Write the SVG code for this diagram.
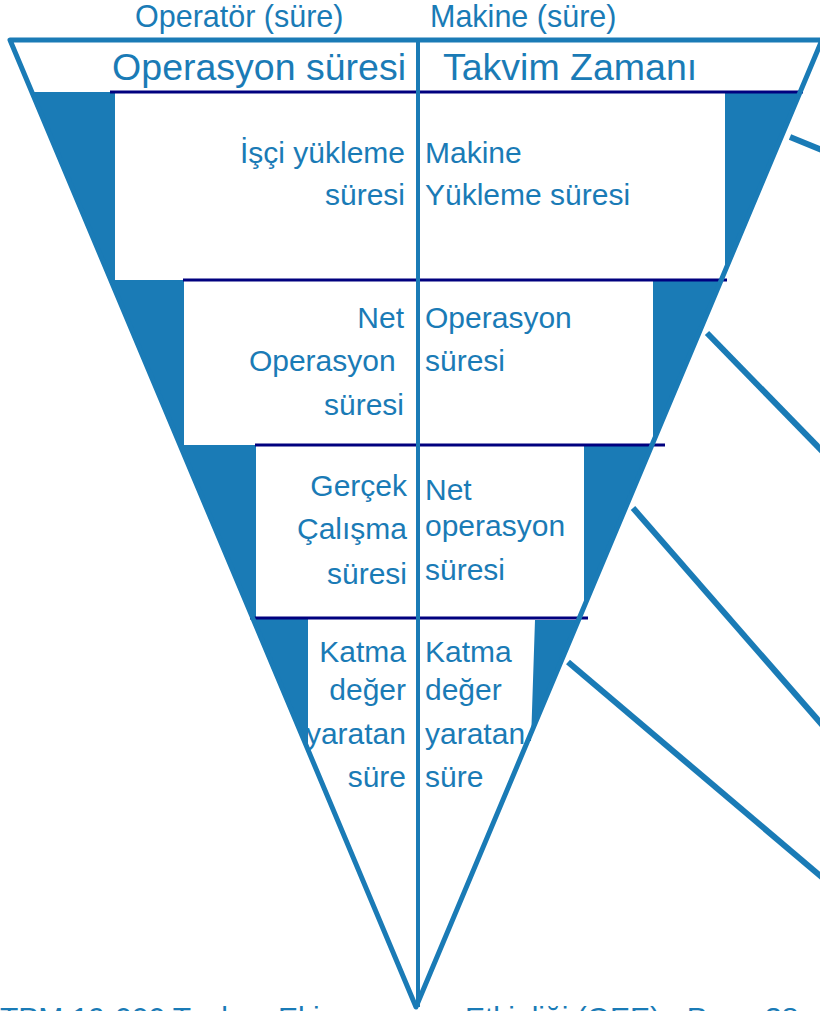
<svg xmlns="http://www.w3.org/2000/svg" width="820" height="1011" viewBox="0 0 820 1011">
<style>
.t{font-family:"Liberation Sans",Arial,sans-serif;font-size:30px;fill:#1a7bb6}
.s{font-size:30.5px}
.h{font-size:37.5px}
.r{text-anchor:end}
.w{fill:#1a7bb6;stroke:none}
.n{stroke:#00007f;stroke-width:3;fill:none}
.c{stroke:#1a7bb6;stroke-width:6;fill:none}
</style>
<rect width="820" height="1011" fill="#ffffff"/>
<g id="wedges">
<polygon class="w" points="31.8,92 115,92 115,280 110.8,280"/>
<polygon class="w" points="110.8,280 184,280 184,445 180.1,445"/>
<polygon class="w" points="180.1,445 256,445 256,618 252.7,618"/>
<polygon class="w" points="252.7,619 308,619 308,749"/>
<polygon class="w" points="725,92 800.2,92 725,271"/>
<polygon class="w" points="653,280 721.2,280 653,442.5"/>
<polygon class="w" points="584,445 651.9,445 584,607"/>
<polygon class="w" points="535,620 578,620 528,741 531,741"/>
</g>
<g id="levels">
<line class="n" x1="110" y1="92" x2="803" y2="92"/>
<line class="n" x1="183" y1="280" x2="727" y2="280"/>
<line class="n" x1="255" y1="445" x2="665" y2="445"/>
<line class="n" x1="250" y1="618" x2="588" y2="618"/>
</g>
<g id="connectors">
<line class="c" x1="790" y1="137" x2="824" y2="151"/>
<line class="c" x1="707" y1="333" x2="824" y2="453"/>
<line class="c" x1="633" y1="508" x2="824" y2="727"/>
<line class="c" x1="568" y1="662" x2="824" y2="879"/>
</g>
<g id="funnel">
<path d="M10,40 L822,40 L416,1007 Z" fill="none" stroke="#1a7bb6" stroke-width="5" stroke-linejoin="round"/>
<line x1="418" y1="40" x2="418" y2="1007" stroke="#1a7bb6" stroke-width="4"/>
</g>
<g id="headers">
<text class="t s" x="135" y="27">Operatör (süre)</text>
<text class="t s" x="430" y="27">Makine (süre)</text>
<text class="t h r" x="406" y="80">Operasyon süresi</text>
<text class="t h" x="443" y="80">Takvim Zamanı</text>
</g>
<g id="level1">
<text class="t r" x="405" y="163">İşçi yükleme</text>
<text class="t r" x="405" y="205">süresi</text>
<text class="t" x="425" y="163">Makine</text>
<text class="t" x="425" y="205">Yükleme süresi</text>
</g>
<g id="level2">
<text class="t r" x="404" y="328">Net</text>
<text class="t r" x="404" y="371" xml:space="preserve">Operasyon </text>
<text class="t r" x="404" y="415">süresi</text>
<text class="t" x="425" y="328">Operasyon</text>
<text class="t" x="425" y="371">süresi</text>
</g>
<g id="level3">
<text class="t r" x="407" y="496">Gerçek</text>
<text class="t r" x="407" y="539">Çalışma</text>
<text class="t r" x="407" y="584">süresi</text>
<text class="t" x="425" y="500">Net</text>
<text class="t" x="425" y="536">operasyon</text>
<text class="t" x="425" y="580">süresi</text>
</g>
<g id="level4">
<text class="t r" x="406" y="662">Katma</text>
<text class="t r" x="406" y="700">değer</text>
<text class="t r" x="406" y="744">yaratan</text>
<text class="t r" x="406" y="787">süre</text>
<text class="t" x="425" y="662">Katma</text>
<text class="t" x="425" y="700">değer</text>
<text class="t" x="425" y="744">yaratan</text>
<text class="t" x="425" y="787">süre</text>
</g>
<g id="footer">
<text class="t" x="0" y="1028">TPM 19-000 Toplam Ekipman<tspan x="465">Etkinliği (OEE) - Page 38</tspan></text>
</g>
</svg>
